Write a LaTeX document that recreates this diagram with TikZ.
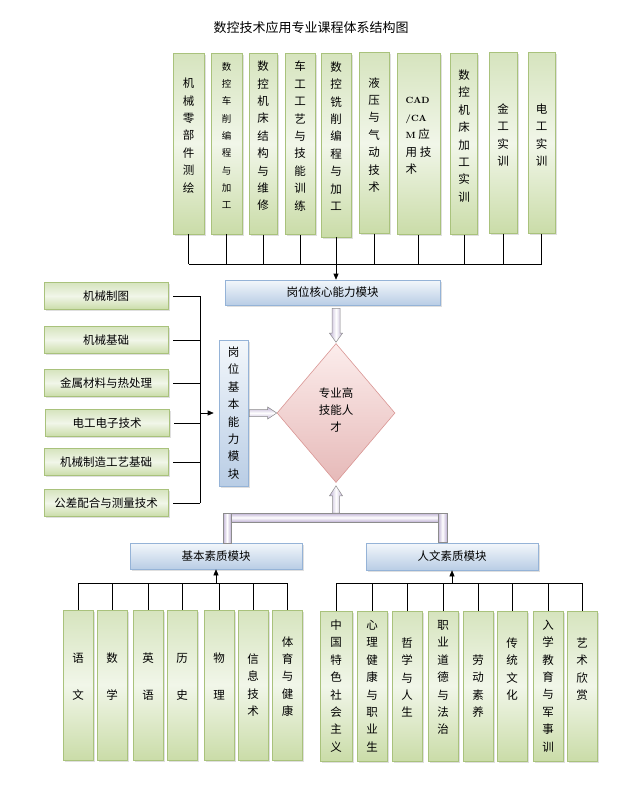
\documentclass[tikz,border=0pt]{standalone}
\usepackage{fontspec}
\newfontfamily\cjk{Noto Sans CJK SC}
\usetikzlibrary{arrows.meta,calc,shapes.geometric,shadows}
\definecolor{boxgreentop}{HTML}{D6E4BE}
\definecolor{boxgreenmid}{HTML}{F1F6E9}
\definecolor{boxgreenbot}{HTML}{CADCA8}
\definecolor{boxgreenline}{HTML}{A9C27C}
\definecolor{boxbluetop}{HTML}{F3F7FB}
\definecolor{boxbluebot}{HTML}{B9CDE5}
\definecolor{boxblueline}{HTML}{95B3D7}
\definecolor{diamondtop}{HTML}{FCEDEC}
\definecolor{diamondbot}{HTML}{E6B9B8}
\definecolor{diamondline}{HTML}{D99694}
\definecolor{pipeside}{HTML}{BFB1D4}
\definecolor{pipeline}{HTML}{8C8C8C}
\newcommand{\latinb}[1]{{\normalfont\bfseries\fontsize{9}{17.3}\selectfont #1}}

\begin{document}
\begin{tikzpicture}[x=1pt,y=-1pt,
  font=\cjk\fontsize{11.5}{17.4}\selectfont,
  greenbox/.style={draw=boxgreenline, line width=0.6pt, top color=boxgreentop, bottom color=boxgreenbot, middle color=boxgreenmid, inner sep=0pt, align=center, drop shadow={shadow xshift=1.5pt, shadow yshift=-1.5pt, fill=black!25}},
  topcol/.style={greenbox, minimum width=30pt, minimum height=181pt},
  botcol/.style={greenbox, minimum width=30pt, minimum height=150pt},
  leftbox/.style={greenbox, minimum width=124pt, minimum height=27pt},
  coltext/.style={align=center, inner sep=0pt},
  coltxt/.style 2 args={label={[coltext, yshift=#1]center:{#2}}},
  bluebox/.style={draw=boxblueline, line width=0.6pt, top color=boxbluetop, bottom color=boxbluebot, inner sep=0pt, align=center, drop shadow={shadow xshift=1.5pt, shadow yshift=-1.5pt, fill=black!25}},
  pipev/.style={draw=pipeline, line width=0.5pt, left color=pipeside, right color=pipeside, middle color=white},
  pipeh/.style={draw=pipeline, line width=0.5pt, top color=pipeside, bottom color=pipeside, middle color=white},
  link/.style={line width=0.6pt},
  linkarrow/.style={line width=0.6pt, -{Triangle[length=6pt,width=5pt]}}]
  \useasboundingbox (0,0) rectangle (622,795);

  \node (title) at (311,28) {\fontsize{13}{15}\selectfont 数控技术应用专业课程体系结构图};

  % top courses
  \node[topcol, minimum width=31pt, coltxt={8pt}{机\\械\\零\\部\\件\\测\\绘}] (t1) at (188.5,143.5) {};
  \node[topcol, minimum width=31pt, label={[coltext, yshift=8pt, font=\cjk\fontsize{9.5}{17.3}\selectfont]center:{数\\控\\车\\削\\编\\程\\与\\加\\工}}] (t2) at (226.5,143.5) {};
  \node[topcol, minimum width=28pt, coltxt={8pt}{数\\控\\机\\床\\结\\构\\与\\维\\修}] (t3) at (263,144) {};
  \node[topcol, coltxt={8pt}{车\\工\\工\\艺\\与\\技\\能\\训\\练}] (t4) at (300,144) {};
  \node[topcol, minimum height=184pt, coltxt={9pt}{数\\控\\铣\\削\\编\\程\\与\\加\\工}] (t5) at (336,145) {};
  \node[topcol, coltxt={8pt}{液\\压\\与\\气\\动\\技\\术}] (t6) at (374,143) {};
  \node[topcol, minimum width=43pt, label={[coltext, align=left, yshift=8pt]center:{\latinb{CAD}\\\latinb{/CA}\\\latinb{M} 应\\用 技\\术}}] (t7) at (418.5,144) {};
  \node[topcol, minimum width=27pt, coltxt={8pt}{数\\控\\机\\床\\加\\工\\实\\训}] (t8) at (464,144) {};
  \node[topcol, minimum width=28pt, coltxt={8pt}{金\\工\\实\\训}] (t9) at (503,143) {};
  \node[topcol, minimum width=27pt, coltxt={8pt}{电\\工\\实\\训}] (t10) at (541.5,143) {};
  \coordinate (topbus) at (0,264);
  \foreach \i in {1,...,10} \draw[link] (t\i.south) -- (t\i.south |- topbus);
  \draw[link] (t1.south |- topbus) -- (t10.south |- topbus);

  % centre
  \node[bluebox, minimum width=215pt, minimum height=25pt] (core) at (332.5,292.5) {岗位核心能力模块};
  \draw[linkarrow] (t5.south |- topbus) -- (t5.south |- core.north);
  \node[diamond, draw=diamondline, line width=0.6pt, top color=diamondtop, bottom color=diamondbot, minimum width=118pt, minimum height=139pt, inner sep=0pt, align=center, coltxt={3pt}{专业高\\技能人\\才}] (rencai) at (336,413) {};
  \node[bluebox, minimum width=29pt, minimum height=146pt] (jiben) at (233.5,413) {岗\\位\\基\\本\\能\\力\\模\\块};
  \draw[pipev] ($(rencai.north |- core.south)+(-4,3)$) -- ($(rencai.north)+(-4,-10)$) -- ($(rencai.north)+(-6.5,-10)$) -- ($(rencai.north)+(0,-1)$)
    -- ($(rencai.north)+(6.5,-10)$) -- ($(rencai.north)+(4,-10)$) -- ($(rencai.north |- core.south)+(4,3)$) -- cycle;
  \draw[pipeh] ($(jiben.east)+(1,-3.5)$) -- ($(rencai.west)+(-9,-3.5)$) -- ($(rencai.west)+(-9,-6)$) -- (rencai.west)
    -- ($(rencai.west)+(-9,6)$) -- ($(rencai.west)+(-9,3.5)$) -- ($(jiben.east)+(1,3.5)$) -- cycle;

  % left courses
  \node[leftbox] (l1) at (106,296) {机械制图};
  \node[leftbox] (l2) at (106,340) {机械基础};
  \node[leftbox] (l3) at (106,383) {金属材料与热处理};
  \node[leftbox] (l4) at (107,423) {电工电子技术};
  \node[leftbox] (l5) at (106,462) {机械制造工艺基础};
  \node[leftbox] (l6) at (106,503) {公差配合与测量技术};
  \coordinate (leftbus) at (200,0);
  \foreach \i in {1,...,6} \draw[link] ([xshift=5pt]l\i.east) -- (l\i.east -| leftbus);
  \draw[link] (l1.east -| leftbus) -- (l6.east -| leftbus);
  \draw[linkarrow, shorten >=5pt] (jiben.west -| leftbus) -- (jiben.west);

  % bottom bracket
  \node[bluebox, minimum width=172pt, minimum height=26pt] (jbsz) at (216,556) {基本素质模块};
  \node[bluebox, minimum width=172pt, minimum height=27pt] (rwsz) at (452,556.5) {人文素质模块};
  \draw[pipev] (223,513) rectangle (231,543);
  \draw[pipev] (438,513) rectangle (447,542);
  \draw[pipeh] (231,513) rectangle (438,522);
  \coordinate (bartop) at (336,513);
  \draw[pipev] ($(bartop)+(-3.5,0)$) -- ($(rencai.south)+(-3.5,13)$) -- ($(rencai.south)+(-6.5,13)$) -- ($(rencai.south)+(0,3)$)
    -- ($(rencai.south)+(6.5,13)$) -- ($(rencai.south)+(3.5,13)$) -- ($(bartop)+(3.5,0)$) -- cycle;

  % bottom courses
  \node[botcol, coltxt={8.5pt}{语\\[19.5pt]文}] (b1) at (78,685) {};
  \node[botcol, coltxt={8.5pt}{数\\[19.5pt]学}] (b2) at (112,685) {};
  \node[botcol, coltxt={8.5pt}{英\\[19.5pt]语}] (b3) at (148,685) {};
  \node[botcol, coltxt={8.5pt}{历\\[19.5pt]史}] (b4) at (182,685) {};
  \node[botcol, coltxt={8.5pt}{物\\[19.5pt]理}] (b5) at (219,685) {};
  \node[botcol, coltxt={0pt}{信\\息\\技\\术}] (b6) at (253,685) {};
  \node[botcol, coltxt={8.5pt}{体\\育\\与\\健\\康}] (b7) at (287.5,685) {};
  \node[botcol, minimum width=32pt, coltxt={0pt}{中\\国\\特\\色\\社\\会\\主\\义}] (r1) at (336,686) {};
  \node[botcol, coltxt={0pt}{心\\理\\健\\康\\与\\职\\业\\生}] (r2) at (372,686) {};
  \node[botcol, coltxt={8.5pt}{哲\\学\\与\\人\\生}] (r3) at (407,686) {};
  \node[botcol, coltxt={8.5pt}{职\\业\\道\\德\\与\\法\\治}] (r4) at (443,686) {};
  \node[botcol, coltxt={0pt}{劳\\动\\素\\养}] (r5) at (478,686) {};
  \node[botcol, coltxt={17pt}{传\\统\\文\\化}] (r6) at (512,686) {};
  \node[botcol, coltxt={0pt}{入\\学\\教\\育\\与\\军\\事\\训}] (r7) at (548,686) {};
  \node[botcol, coltxt={17pt}{艺\\术\\欣\\赏}] (r8) at (582,686) {};
  \coordinate (botbus) at (0,583);
  \foreach \i in {1,...,7} \draw[link] (b\i.north) -- (b\i.north |- botbus);
  \foreach \i in {1,...,8} \draw[link] (r\i.north) -- (r\i.north |- botbus);
  \draw[link] (b1.north |- botbus) -- (b7.north |- botbus);
  \draw[link] (r1.north |- botbus) -- (r8.north |- botbus);
  \draw[linkarrow] (jbsz.south |- botbus) -- (jbsz.south);
  \draw[linkarrow] (rwsz.south |- botbus) -- (rwsz.south);
\end{tikzpicture}
\end{document}
